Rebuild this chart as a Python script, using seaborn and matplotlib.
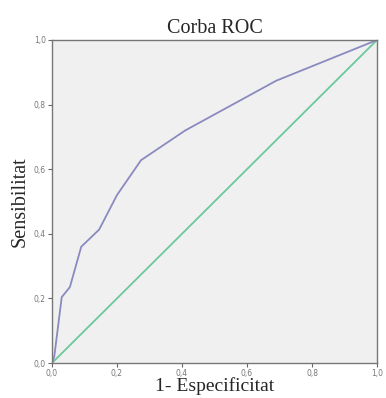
import matplotlib
matplotlib.use("Agg")
import matplotlib.pyplot as plt
import seaborn as sns
import pandas as pd

# ROC curve points
fpr = [0.0, 0.007, 0.03, 0.055, 0.09, 0.145, 0.20, 0.274, 0.41, 0.69, 1.0]
tpr = [0.0, 0.02, 0.204, 0.235, 0.36, 0.413, 0.52, 0.628, 0.72, 0.874, 1.0]
ref_x = [0.0, 1.0]
ref_y = [0.0, 1.0]
ticks = [0.0, 0.2, 0.4, 0.6, 0.8, 1.0]
tick_labels = ["0,0", "0,2", "0,4", "0,6", "0,8", "1,0"]

sns.set_style("white")
plt.rcParams['font.family'] = ['DejaVu Sans']

fig = plt.figure(figsize=(3.86, 3.98), dpi=100)
ax = fig.add_axes([0.1347, 0.0879, 0.842, 0.8116])
ax.set_facecolor("#f0f0f0")

roc = pd.DataFrame({"x": fpr, "y": tpr})
diag = pd.DataFrame({"x": ref_x, "y": ref_y})
sns.lineplot(data=diag, x="x", y="y", ax=ax, color="#6cc89a", lw=1.3, sort=False)
sns.lineplot(data=roc, x="x", y="y", ax=ax, color="#8a8ac0", lw=1.3, sort=False)

ax.set_xlim(0, 1)
ax.set_ylim(0, 1)
ax.set_xticks(ticks)
ax.set_yticks(ticks)
ax.set_xticklabels(tick_labels)
ax.set_yticklabels(tick_labels)
ax.tick_params(axis="both", labelsize=5.5, labelcolor="#777777", length=3,
               width=0.8, color="#666666", pad=1.5, direction="out")
ax.tick_params(axis="x", bottom=True)
ax.tick_params(axis="y", left=True)
for s in ax.spines.values():
    s.set_color("#777777")
    s.set_linewidth(1.0)

serif = ["Liberation Serif", "DejaVu Serif"]
ax.set_title("Corba ROC", family=serif, fontsize=14.5, pad=5)
ax.set_xlabel("1- Especificitat", family=serif, fontsize=14, labelpad=-1)
ax.set_ylabel("Sensibilitat", family=serif, fontsize=14.5, labelpad=3)

fig.savefig("out.png", dpi=100)
